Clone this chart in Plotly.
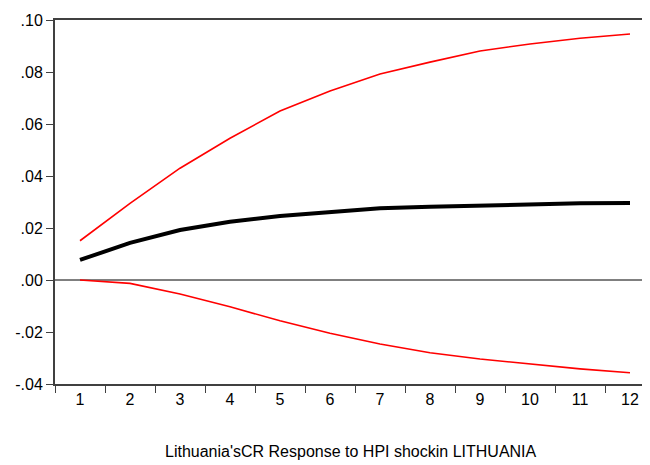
import plotly.graph_objects as go

periods = ["1", "2", "3", "4", "5", "6", "7", "8", "9", "10", "11", "12"]
response = [0.0077, 0.0143, 0.0192, 0.0224, 0.0246, 0.0262, 0.0276, 0.0282, 0.0287, 0.0292, 0.0295, 0.0296]
upper_band = [0.0151, 0.0295, 0.0430, 0.0545, 0.0650, 0.0727, 0.0792, 0.0838, 0.0881, 0.0908, 0.0930, 0.0946]
lower_band = [0.0000, -0.0013, -0.0054, -0.0103, -0.0157, -0.0205, -0.0246, -0.0280, -0.0304, -0.0323, -0.0342, -0.0357]
y_ticks = [-0.04, -0.02, 0.0, 0.02, 0.04, 0.06, 0.08, 0.10]
y_tick_text = ["-.04", "-.02", ".00", ".02", ".04", ".06", ".08", ".10"]
caption = "Lithuania'sCR Response to HPI shockin LITHUANIA"

fig = go.Figure()
fig.add_shape(type="line", xref="paper", yref="y", x0=0, x1=1, y0=0, y1=0,
              line=dict(color="#000000", width=1), layer="below")
fig.add_trace(go.Scatter(x=periods, y=upper_band, mode="lines",
                         line=dict(color="#ff0000", width=1.6), hoverinfo="skip"))
fig.add_trace(go.Scatter(x=periods, y=lower_band, mode="lines",
                         line=dict(color="#ff0000", width=1.6), hoverinfo="skip"))
fig.add_trace(go.Scatter(x=periods, y=response, mode="lines",
                         line=dict(color="#000000", width=4), hoverinfo="skip"))

font = dict(family="Liberation Sans, Arial, sans-serif", size=16, color="#000000")

fig.update_layout(
    width=642, height=457,
    margin=dict(l=47, r=0, t=12, b=81),
    paper_bgcolor="white", plot_bgcolor="white",
    showlegend=False,
    font=font,
    xaxis=dict(type="category", range=[-0.5, 11.4], tickson="boundaries",
               ticks="outside", ticklen=7, tickwidth=1, tickcolor="#404040",
               showline=True, linecolor="#404040", linewidth=2, mirror=True,
               showgrid=False, zeroline=False, tickfont=font),
    yaxis=dict(range=[-0.04, 0.10], tickvals=y_ticks, ticktext=y_tick_text,
               ticks="outside", ticklen=7, tickwidth=1, tickcolor="#404040",
               showline=True, linecolor="#404040", linewidth=2,
               showgrid=False, zeroline=False, tickfont=font),
    annotations=[dict(text=caption, xref="paper", yref="paper", x=0.498, y=-0.186,
                      xanchor="center", yanchor="middle", showarrow=False,
                      font=dict(family="Liberation Sans, Arial, sans-serif", size=16, color="#000000"))],
)

fig.write_html("out.html")
